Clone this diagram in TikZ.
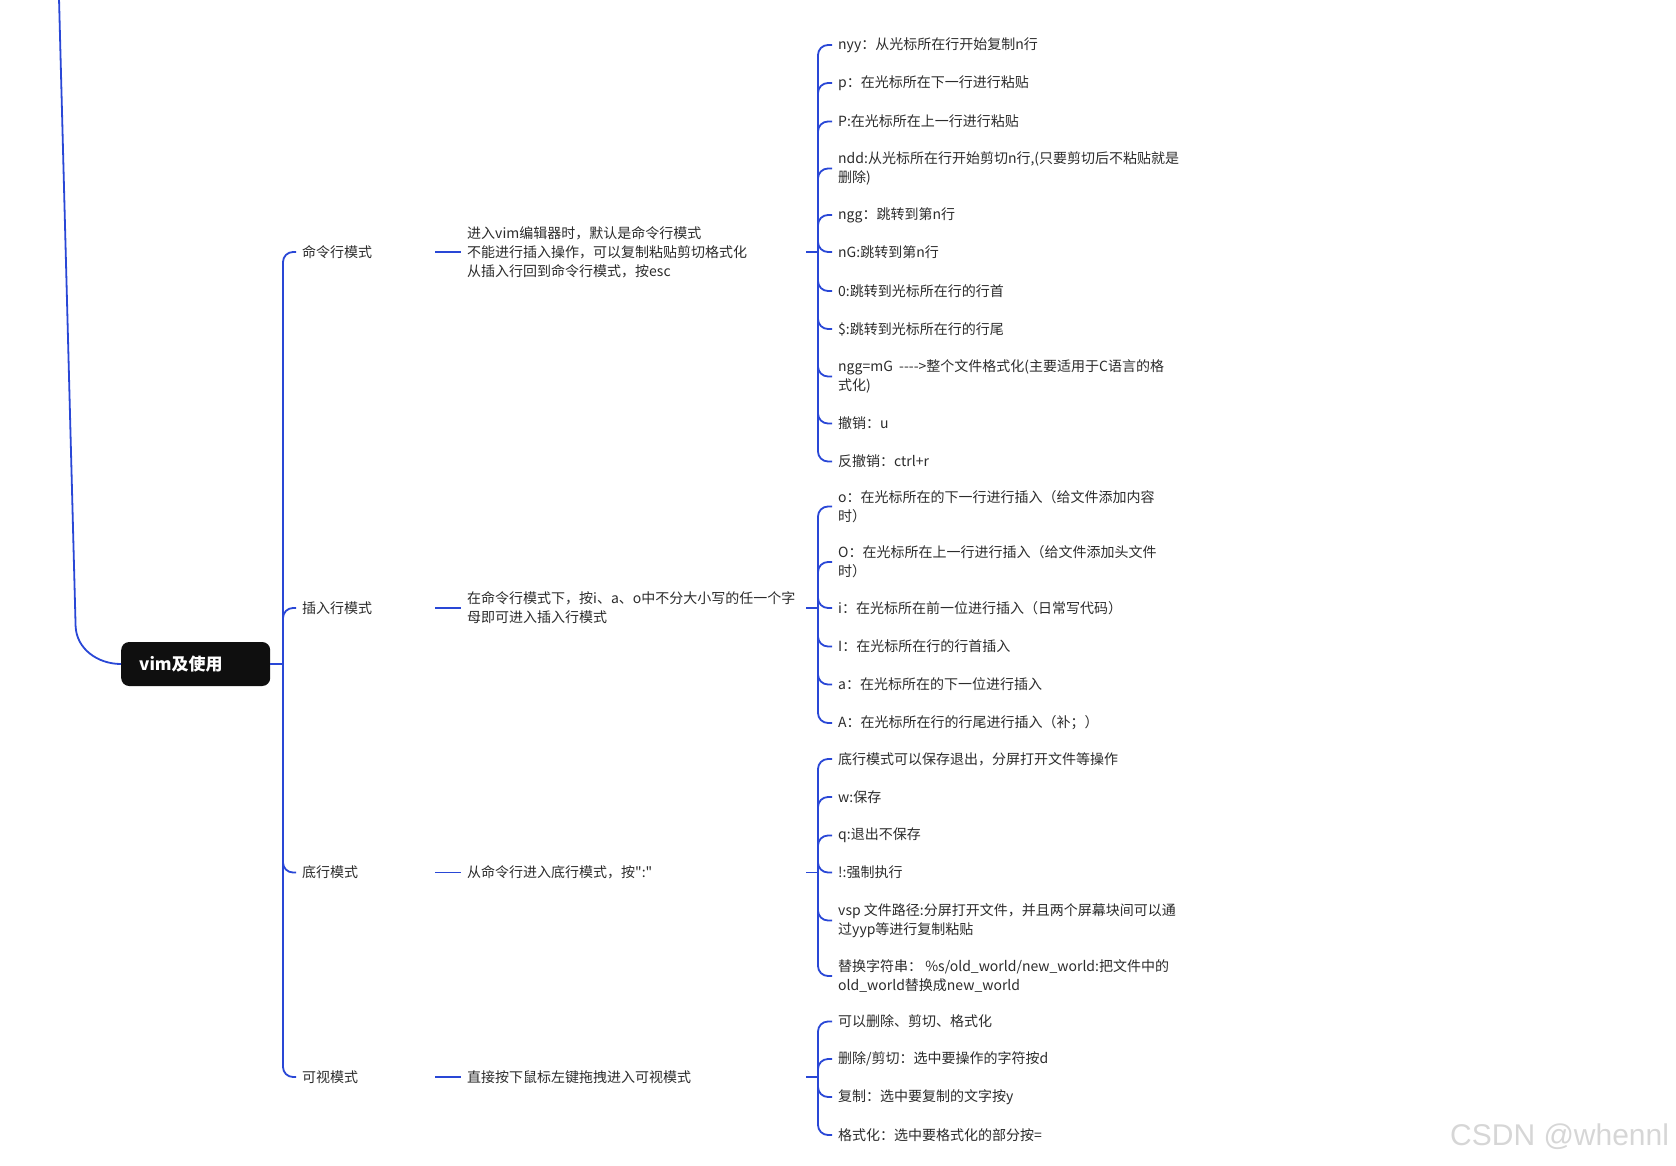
\documentclass[tikz,border=0pt]{standalone}
\usepackage{fontspec}
\newfontfamily\cjk{Noto Sans CJK SC}
\newfontfamily\wmfont{Liberation Sans}
\definecolor{lineblue}{HTML}{2947D6}
\definecolor{txt}{HTML}{2B2B2B}
\definecolor{rootfill}{HTML}{0F0F0F}
\definecolor{wmgray}{HTML}{D6D6D6}
\begin{document}
\begin{tikzpicture}[x=1pt,y=-1pt,
  conn/.style={draw=lineblue, line width=1.8pt, rounded corners=10pt},
  txtnode/.style={anchor=west, inner xsep=6pt, inner ysep=0pt, align=left, text=txt, font=\cjk\fontsize{14}{19}\selectfont},
  lone/.style={txtnode, text width=127pt},
  ltwo/.style={txtnode, text width=333pt},
  leaf/.style={txtnode},
  rootnode/.style={anchor=west, fill=rootfill, rounded corners=8pt, minimum height=44pt, inner xsep=18pt, inner ysep=0pt, text width=113pt, align=left, text=white, font=\cjk\bfseries\fontsize{17}{20}\selectfont},
  wmnode/.style={anchor=base west, inner sep=0pt, text=wmgray, font=\wmfont\fontsize{30}{30}\selectfont}
]
\useasboundingbox (0,0) rectangle (1676,1165);

% root
\node[rootnode] (root) at (121,664) {vim及使用};
\coordinate (top) at (59,-2);
\draw[conn, rounded corners=0pt] (top) -- (75.6,626) to[out=-88,in=180] (root.west);

% level 1
\node[lone] (a1) at (296,252) {命令行模式};
\node[lone] (a2) at (296,608) {插入行模式};
\node[lone] (a3) at (296,872.5) {底行模式};
\node[lone] (a4) at (296,1077) {可视模式};
\coordinate (t) at (283,664);
\draw[conn] (root.east) -- (t);
\foreach \n in {a1,a2,a3,a4} \draw[conn] (t) |- (\n.west);

% level 2
\node[ltwo] (b1) at (461,252) {进入vim编辑器时，默认是命令行模式\\不能进行插入操作，可以复制粘贴剪切格式化\\从插入行回到命令行模式，按esc};
\node[ltwo] (b2) at (461,608) {在命令行模式下，按i、a、o中不分大小写的任一个字\\母即可进入插入行模式};
\node[ltwo] (b3) at (461,872.5) {从命令行进入底行模式，按":"};
\node[ltwo] (b4) at (461,1077) {直接按下鼠标左键拖拽进入可视模式};
\foreach \i in {1,2,3,4} \draw[conn] (a\i.east) -- (b\i.west);

\coordinate (h1) at (818,252);
\coordinate (h2) at (818,608);
\coordinate (h3) at (818,872.5);
\coordinate (h4) at (818,1077);
\foreach \i in {1,2,3,4} \draw[conn] (b\i.east) -- (h\i);

% group 1 leaves
\node[leaf] (c1) at (832,45) {nyy：从光标所在行开始复制n行};
\node[leaf] (c2) at (832,83) {p：在光标所在下一行进行粘贴};
\node[leaf] (c3) at (832,121.5) {P:在光标所在上一行进行粘贴};
\node[leaf] (c4) at (832,168.5) {ndd:从光标所在行开始剪切n行,(只要剪切后不粘贴就是\\删除)};
\node[leaf] (c5) at (832,215) {ngg：跳转到第n行};
\node[leaf] (c6) at (832,252) {nG:跳转到第n行};
\node[leaf] (c7) at (832,291) {0:跳转到光标所在行的行首};
\node[leaf] (c8) at (832,329) {\$:跳转到光标所在行的行尾};
\node[leaf] (c9) at (832,376.5) {ngg=mG~~-{}-{}-{}->整个文件格式化(主要适用于C语言的格\\式化)};
\node[leaf] (c10) at (832,423.5) {撤销：u};
\node[leaf] (c11) at (832,461.5) {反撤销：ctrl+r};
\foreach \n in {c1,c2,c3,c4,c5,c6,c7,c8,c9,c10,c11} \draw[conn] (h1) |- (\n.west);

% group 2 leaves
\node[leaf] (d1) at (832,506.5) {o：在光标所在的下一行进行插入（给文件添加内容\\时）};
\node[leaf] (d2) at (832,562) {O：在光标所在上一行进行插入（给文件添加头文件\\时）};
\node[leaf] (d3) at (832,608) {i：在光标所在前一位进行插入（日常写代码）};
\node[leaf] (d4) at (832,646.5) {I：在光标所在行的行首插入};
\node[leaf] (d5) at (832,684.5) {a：在光标所在的下一位进行插入};
\node[leaf] (d6) at (832,723) {A：在光标所在行的行尾进行插入（补；）};
\foreach \n in {d1,d2,d3,d4,d5,d6} \draw[conn] (h2) |- (\n.west);

% group 3 leaves
\node[leaf] (e1) at (832,759) {底行模式可以保存退出，分屏打开文件等操作};
\node[leaf] (e2) at (832,797) {w:保存};
\node[leaf] (e3) at (832,835.5) {q:退出不保存};
\node[leaf] (e4) at (832,872.5) {!:强制执行};
\node[leaf] (e5) at (832,920.5) {vsp 文件路径:分屏打开文件，并且两个屏幕块间可以通\\过yyp等进行复制粘贴};
\node[leaf] (e6) at (832,976) {替换字符串： \%s/old\_world/new\_world:把文件中的\\old\_world替换成new\_world};
\foreach \n in {e1,e2,e3,e4,e5,e6} \draw[conn] (h3) |- (\n.west);

% group 4 leaves
\node[leaf] (f1) at (832,1021.5) {可以删除、剪切、格式化};
\node[leaf] (f2) at (832,1059) {删除/剪切：选中要操作的字符按d};
\node[leaf] (f3) at (832,1097) {复制：选中要复制的文字按y};
\node[leaf] (f4) at (832,1135) {格式化：选中要格式化的部分按=};
\foreach \n in {f1,f2,f3,f4} \draw[conn] (h4) |- (\n.west);

% watermark
\node[wmnode] (wm) at (1450,1145) {CSDN @whennl};
\end{tikzpicture}
\end{document}
